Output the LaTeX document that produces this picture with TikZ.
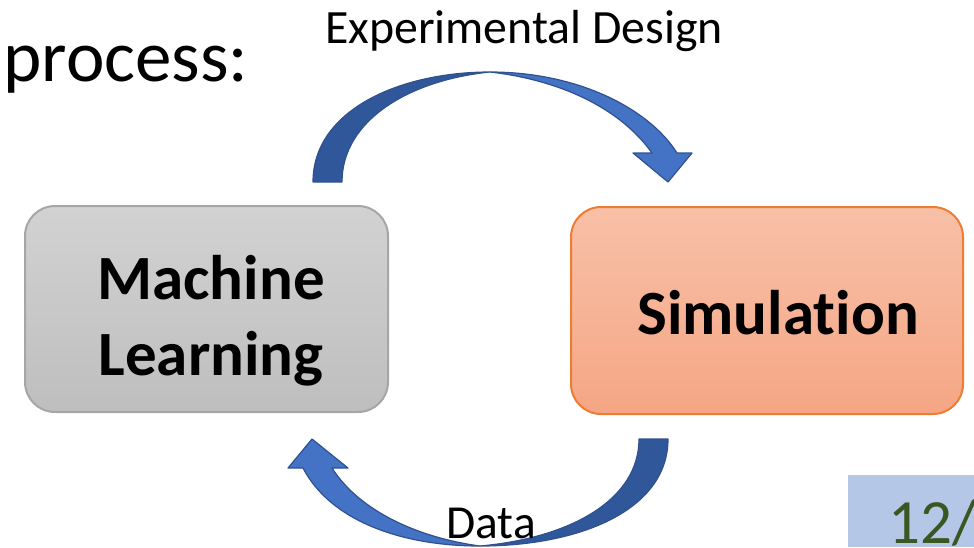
\documentclass[tikz,border=0pt]{standalone}
\usepackage{fontspec}
\setmainfont[RawFeature={-liga;-calt;-clig}]{Carlito}
\definecolor{mlgray}{RGB}{210,210,210}
\definecolor{mlgraybot}{RGB}{190,190,190}
\definecolor{mledge}{RGB}{166,166,166}
\definecolor{simtop}{RGB}{248,192,168}
\definecolor{simbot}{RGB}{245,166,132}
\definecolor{simedge}{RGB}{237,125,49}
\definecolor{darkblue}{RGB}{49,87,155}
\definecolor{lightblue}{RGB}{68,114,196}
\definecolor{blueedge}{RGB}{47,82,143}
\definecolor{pagebox}{RGB}{180,199,231}
\definecolor{pagegreen}{RGB}{56,87,35}

\begin{document}
\begin{tikzpicture}[x=0.5pt,y=-0.5pt,
	box/.style={rounded corners=15pt,line width=1pt,inner sep=0pt},
	mlbox/.style={box,draw=mledge,top color=mlgray,bottom color=mlgraybot,minimum width=181.5pt,minimum height=103pt},
	simbox/.style={box,draw=simedge,top color=simtop,bottom color=simbot,minimum width=196pt,minimum height=103.5pt},
	bigtxt/.style={font=\fontsize{31.5}{38}\selectfont\bfseries,align=center,inner sep=0pt},
	bluearrow/.style={draw=blueedge,line width=0.6pt,line join=round}]
	\useasboundingbox (0,0) rectangle (974,547);
	\clip (0,0) rectangle (974,547);

	\node[anchor=base west,inner sep=0pt,font=\fontsize{36.5}{40}\selectfont] (title) at (3,81){process:};
	\node[anchor=base,inner sep=0pt,font=\fontsize{23.9}{28}\selectfont] (design) at (524,43){Experimental Design};

	\node[mlbox] (ml) at (206.5,309){};
	\node[bigtxt] (mltxt) at (211,321){Machine\\Learning};
	\node[simbox] (sim) at (767,310.5){};
	\node[bigtxt,anchor=base] (simtxt) at (778,334){Simulat\kern0pt ion};

	% top arrow: ml -> sim
	\coordinate (t1) at (313,182);
	\coordinate (t2) at (342,182);
	\coordinate (ttop) at (490,72);
	\coordinate (th) at (668,182);
	\fill[darkblue,bluearrow] (t1) .. controls (313,110) and (400,72) .. (ttop)
		.. controls (410,80) and (342,120) .. (t2) -- cycle;
	\fill[lightblue,bluearrow] (ttop) .. controls (580,72) and (650,110) .. (677,153)
		-- (692,153) -- (th) -- (633,153) -- (652,153)
		.. controls (620,108) and (560,80) .. (ttop) -- cycle;

	% bottom arrow: sim -> ml
	\coordinate (b1) at (668,439);
	\coordinate (b2) at (639,439);
	\coordinate (bbot) at (480,546);
	\coordinate (bh) at (312,439);
	\fill[darkblue,bluearrow] (b1) .. controls (668,510) and (580,546) .. (bbot)
		.. controls (570,538) and (639,500) .. (b2) -- cycle;
	\fill[lightblue,bluearrow] (bbot) .. controls (400,546) and (330,520) .. (303,468)
		-- (288,468) -- (bh) -- (348,468) -- (332,468)
		.. controls (360,512) and (420,538) .. (bbot) -- cycle;
	\node[anchor=base,inner sep=0pt,font=\fontsize{23.7}{28}\selectfont] (data) at (491,538){Data};

	% page number
	\node[fill=pagebox,anchor=north west,minimum width=63pt,minimum height=36pt,inner sep=0pt] (page) at (848,475){};
	\node[anchor=base west,inner sep=0pt,text=pagegreen,font=\fontsize{31.5}{37}\selectfont] (pnum) at (888,543){12/};
\end{tikzpicture}
\end{document}
